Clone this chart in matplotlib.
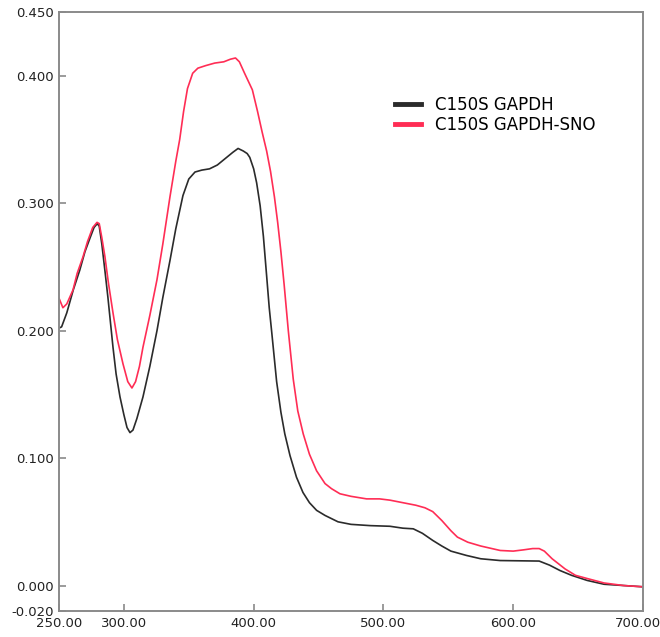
import matplotlib
matplotlib.use("Agg")
import matplotlib.pyplot as plt
import matplotlib.transforms as mtransforms

# wavelength (nm) / absorbance
wl_gapdh = [250, 252, 256, 261, 266, 270, 274, 277, 279.5, 281, 283, 285.5, 287.7,
            291.6, 294, 297, 300, 302.4, 304.7, 307, 310, 314.7, 320, 325.5, 330,
            335.5, 340, 345.5, 350, 354.8, 360, 366, 372, 378, 384, 388, 392, 395,
            397, 400, 402.3, 405, 407.5, 410, 412, 414, 417.7, 421, 424, 428, 433,
            438, 443, 448.5, 455, 465, 475, 490, 505, 515, 523, 530, 538, 545, 552,
            564, 575, 590, 605, 620, 628, 636, 645, 657, 670, 685, 700]
abs_gapdh = [0.202, 0.203, 0.214, 0.232, 0.2475, 0.262, 0.273, 0.281, 0.284, 0.282,
             0.268, 0.246, 0.226, 0.187, 0.166, 0.148, 0.134, 0.124, 0.120, 0.122,
             0.131, 0.148, 0.172, 0.200, 0.226, 0.255, 0.280, 0.306, 0.319, 0.3245,
             0.326, 0.327, 0.330, 0.335, 0.340, 0.343, 0.341, 0.339, 0.336, 0.327,
             0.316, 0.298, 0.274, 0.243, 0.218, 0.198, 0.160, 0.136, 0.119, 0.102,
             0.085, 0.073, 0.065, 0.059, 0.055, 0.050, 0.048, 0.047, 0.0465, 0.045,
             0.0445, 0.041, 0.0354, 0.031, 0.027, 0.0236, 0.021, 0.0196, 0.0194,
             0.0192, 0.016, 0.0118, 0.008, 0.004, 0.001, 0.000, -0.001]

wl_sno = [250, 253, 256, 260.8, 264, 268.5, 272, 276, 279.3, 281, 283, 285.4, 288,
          291.6, 295, 299.3, 303, 306.2, 309, 312, 314.7, 320, 325.5, 330, 335.5,
          340, 343, 346, 349, 353, 357, 363, 370, 377, 382, 386, 389, 393, 399,
          403, 406.5, 410, 413, 416, 418.5, 421, 423.5, 426.7, 430.5, 434, 438.2,
          443, 448.5, 455, 460, 466.5, 475, 487, 497, 505, 515, 525, 532, 538, 545,
          552, 557, 565, 575, 590, 600, 608, 615, 620, 624, 630, 640, 648, 657,
          670, 685, 700]
abs_sno = [0.2255, 0.218, 0.221, 0.232, 0.245, 0.258, 0.270, 0.281, 0.285, 0.284,
           0.273, 0.258, 0.238, 0.214, 0.193, 0.174, 0.160, 0.155, 0.160, 0.172,
           0.187, 0.212, 0.240, 0.268, 0.305, 0.333, 0.350, 0.372, 0.390, 0.402,
           0.406, 0.408, 0.410, 0.411, 0.413, 0.414, 0.411, 0.402, 0.389, 0.372,
           0.356, 0.341, 0.325, 0.305, 0.285, 0.262, 0.236, 0.200, 0.162, 0.137,
           0.119, 0.103, 0.090, 0.080, 0.076, 0.072, 0.070, 0.068, 0.068, 0.067,
           0.065, 0.063, 0.061, 0.058, 0.051, 0.043, 0.038, 0.034, 0.031, 0.0275,
           0.027, 0.028, 0.029, 0.029, 0.027, 0.021, 0.013, 0.008, 0.0055, 0.002,
           0.000, -0.001]

xticks = [250, 300, 400, 500, 600, 700]
yticks = [-0.02, 0.0, 0.1, 0.2, 0.3, 0.4, 0.45]

plt.rcParams['font.family'] = 'DejaVu Sans'
fig = plt.figure(figsize=(6.6, 6.37), dpi=100)
ax = fig.add_axes([0.0894, 0.0408, 0.8848, 0.9402])

ax.plot(wl_gapdh, abs_gapdh, color='#2b2b2b', lw=1.2, label='C150S GAPDH')
ax.plot(wl_sno, abs_sno, color='#ff2d55', lw=1.2, label='C150S GAPDH-SNO')

ax.set_xlim(250, 700)
ax.set_ylim(-0.02, 0.45)
ax.set_xticks(xticks)
ax.set_xticklabels([f"{t:.2f}" for t in xticks])
ax.set_yticks(yticks)
ax.set_yticklabels([f"{t:.3f}" for t in yticks])

gray = '#8a8a8a'
for s in ax.spines.values():
    s.set_color(gray)
    s.set_linewidth(1.4)
ax.tick_params(direction='in', length=5, width=1.2, color=gray,
               labelsize=9.5, labelcolor='#222222', pad=4)

# nudge the last x label so it stays inside the picture
last = ax.get_xticklabels()[-1]
last.set_transform(last.get_transform() +
                   mtransforms.ScaledTranslation(-0.05, 0, fig.dpi_scale_trans))

leg = ax.legend(loc='upper left', bbox_to_anchor=(0.575, 0.86), frameon=False,
                fontsize=12, handlelength=1.6, handletextpad=0.8,
                labelspacing=0.1, borderpad=0, borderaxespad=0)
for h in leg.get_lines():
    h.set_linewidth(3.5)

fig.savefig('out.png', dpi=100)
